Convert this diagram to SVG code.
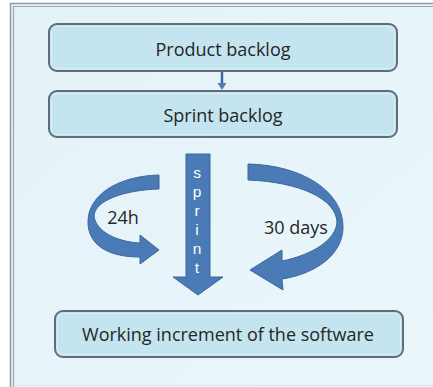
<svg xmlns="http://www.w3.org/2000/svg" width="433" height="387" viewBox="0 0 433 387">
<defs>
<style>
.box{fill:#c4e4ef;stroke:#5d6e78;stroke-width:2}
.boxin{fill:none;stroke:#dcedf3;stroke-width:1}
.lbl{font-family:"Open Sans","Liberation Sans",sans-serif;font-size:18px;fill:#262626;text-anchor:middle}
.arr{fill:#4a7bb7;stroke:#3b679c;stroke-width:1}
.sp{font-family:"Liberation Sans","Open Sans",sans-serif;font-size:15.5px;fill:#ffffff;text-anchor:middle}
</style>
<linearGradient id="bg" x1="0" y1="0" x2="1" y2="1">
<stop offset="0" stop-color="#e4f2f8"/>
<stop offset="1" stop-color="#eaf6fa"/>
</linearGradient>
</defs>
<rect x="0" y="0" width="433" height="387" fill="#ffffff"/>
<g id="frame">
<rect x="10.5" y="3.5" width="440" height="400" fill="url(#bg)" stroke="#8d9ca5" stroke-width="1.5"/>
<path d="M13.5,387 V6.5 H433" fill="none" stroke="#9aa9b1" stroke-width="1.2"/>
<path d="M14,385.5 H433" stroke="#d8e6ec" stroke-width="1"/>
</g>
<g id="connectors">
<path d="M222,71 V84" stroke="#3b679c" stroke-width="2.5" fill="none"/>
<path d="M217.5,83 L226.5,83 L222,90 Z" fill="#4a7bb7"/>
</g>
<g id="product-backlog">
<rect class="box" x="49" y="24" width="348" height="47" rx="8"/>
<rect class="boxin" x="51.5" y="26.5" width="343" height="42" rx="6"/>
<text class="lbl" x="223" y="56">Product backlog</text>
</g>
<g id="sprint-backlog">
<rect class="box" x="49" y="91" width="348" height="46" rx="8"/>
<rect class="boxin" x="51.5" y="93.5" width="343" height="41" rx="6"/>
<text class="lbl" x="223" y="122">Sprint backlog</text>
</g>
<g id="sprint-arrow">
<path class="arr" d="M186,154 H210 V277 H223 L198,295 L173,277 H186 Z"/>
<text class="sp" x="197" y="178">s</text>
<text class="sp" x="197" y="197">p</text>
<text class="sp" x="197" y="216">r</text>
<text class="sp" x="197" y="235">i</text>
<text class="sp" x="197" y="254">n</text>
<text class="sp" x="197" y="273">t</text>
</g>
<g id="loop-24h">
<path class="arr" d="M159,175 L159,189 C 125,190 95,200 94,216 C 96,232 118,242 140,243 L140,235 L159,250 L140,264 L140,257 C 108,257 88,245 88,222 C 88,195 118,176 159,175 Z"/>
<text class="lbl" x="123" y="224">24h</text>
</g>
<g id="loop-30days">
<path class="arr" d="M248,164 C 300,165 343,190 343,227 C 343,255 315,274 282,279 L283,290 L250,270 L282,250 L282,261 C 312,255 336,240 337,222 C 336,199 300,182 248,180 Z"/>
<text class="lbl" x="296" y="234">30 days</text>
</g>
<g id="working-increment">
<rect class="box" x="55" y="311" width="348" height="46" rx="8"/>
<rect class="boxin" x="57.5" y="313.5" width="343" height="41" rx="6"/>
<text class="lbl" x="228" y="341">Working increment of the software</text>
</g>
</svg>
